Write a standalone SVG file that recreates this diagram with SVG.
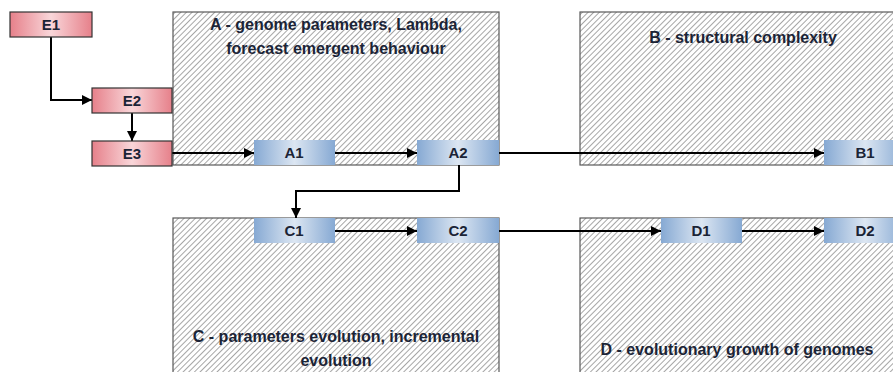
<svg xmlns="http://www.w3.org/2000/svg" width="893" height="372" viewBox="0 0 893 372">
<defs>
<pattern id="hatch" patternUnits="userSpaceOnUse" width="4" height="10" patternTransform="rotate(45)">
<rect x="0" y="0" width="4" height="10" fill="#ffffff"/>
<rect x="0" y="0" width="1" height="10" fill="#a6a6a6"/>
</pattern>
<linearGradient id="pink" x1="0" y1="0" x2="1" y2="0">
<stop offset="0" stop-color="#E6808A"/>
<stop offset="0.5" stop-color="#F9D6D9"/>
<stop offset="1" stop-color="#E6808A"/>
</linearGradient>
<linearGradient id="blue" x1="0" y1="0" x2="1" y2="0">
<stop offset="0" stop-color="#86A9D3"/>
<stop offset="0.5" stop-color="#DCE6F2"/>
<stop offset="1" stop-color="#86A9D3"/>
</linearGradient>
<marker id="arr" viewBox="0 0 10 10" refX="10" refY="5" markerWidth="5" markerHeight="5" orient="auto" markerUnits="strokeWidth">
<path d="M0,0 L10,5 L0,10 z" fill="#000"/>
</marker>
</defs>
<style>
.area{fill:url(#hatch);stroke:#595959;stroke-width:1.2}
.pn{fill:url(#pink);stroke:#333;stroke-width:1.2}
.bn{fill:url(#blue);stroke:none}
.lbl{font-family:"Liberation Sans",Arial,sans-serif;font-weight:bold;font-size:15px;fill:#1B2436;text-anchor:middle}
.ttl{font-family:"Liberation Sans",Arial,sans-serif;font-weight:bold;font-size:16px;fill:#1B2436;text-anchor:middle}
.con{fill:none;stroke:#000;stroke-width:2;marker-end:url(#arr)}
</style>
<g id="areaA"><rect class="area" x="173" y="12" width="326" height="153"/>
<text class="ttl" x="336" y="30">A - genome parameters, Lambda,</text>
<text class="ttl" x="336" y="54">forecast emergent behaviour</text></g>
<g id="areaB"><rect class="area" x="580" y="12" width="330" height="153"/>
<text class="ttl" x="743" y="43">B - structural complexity</text></g>
<g id="areaC"><rect class="area" x="173" y="218" width="326" height="170"/>
<text class="ttl" x="336" y="342">C - parameters evolution, incremental</text>
<text class="ttl" x="336" y="366">evolution</text></g>
<g id="areaD"><rect class="area" x="580" y="218" width="330" height="170"/>
<text class="ttl" x="737" y="355">D - evolutionary growth of genomes</text></g>
<g id="connectors">
<path class="con" d="M51,37 V100 H92"/>
<path class="con" d="M132,113 V141"/>
<path class="con" d="M172,153 H254"/>
<path class="con" d="M335,153 H417"/>
<path class="con" d="M499,153 H824"/>
<path class="con" d="M459,165 V191 H296 V218"/>
<path class="con" d="M335,231 H417"/>
<path class="con" d="M499,231 H661"/>
<path class="con" d="M742,231 H824"/>
</g>
<g id="E1"><rect class="pn" x="10" y="12" width="82" height="25"/><text class="lbl" x="51" y="30">E1</text></g>
<g id="E2"><rect class="pn" x="92" y="88" width="80" height="25"/><text class="lbl" x="132" y="106">E2</text></g>
<g id="E3"><rect class="pn" x="92" y="141" width="80" height="25"/><text class="lbl" x="132" y="159">E3</text></g>
<g id="A1"><rect class="bn" x="254" y="140" width="81" height="25"/><text class="lbl" x="294" y="158">A1</text></g>
<g id="A2"><rect class="bn" x="417" y="140" width="82" height="25"/><text class="lbl" x="458" y="158">A2</text></g>
<g id="B1"><rect class="bn" x="824" y="140" width="82" height="25"/><text class="lbl" x="865" y="158">B1</text></g>
<g id="C1"><rect class="bn" x="254" y="218" width="81" height="25"/><text class="lbl" x="294" y="236">C1</text></g>
<g id="C2"><rect class="bn" x="417" y="218" width="82" height="25"/><text class="lbl" x="458" y="236">C2</text></g>
<g id="D1"><rect class="bn" x="661" y="218" width="81" height="25"/><text class="lbl" x="701" y="236">D1</text></g>
<g id="D2"><rect class="bn" x="824" y="218" width="82" height="25"/><text class="lbl" x="865" y="236">D2</text></g>
</svg>
